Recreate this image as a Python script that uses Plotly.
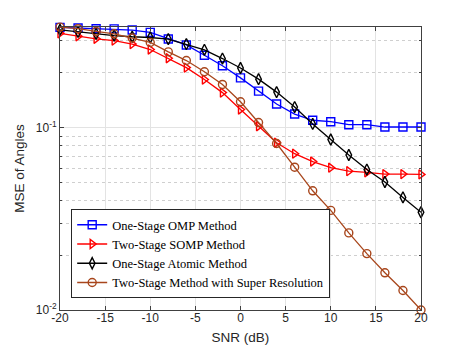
import plotly.graph_objects as go

snr = list(range(-20, 21, 2))

omp = [0.356, 0.353, 0.350, 0.349, 0.344, 0.334, 0.307, 0.285, 0.250, 0.219, 0.188,
       0.159, 0.135, 0.119, 0.110, 0.108, 0.104, 0.104, 0.101, 0.101, 0.101]
somp = [0.330, 0.318, 0.308, 0.301, 0.288, 0.269, 0.241, 0.214, 0.184, 0.156, 0.126,
        0.102, 0.0828, 0.0721, 0.0653, 0.0604, 0.0578, 0.0569, 0.0557, 0.0557, 0.0555]
atomic = [0.345, 0.336, 0.328, 0.321, 0.316, 0.313, 0.307, 0.288, 0.268, 0.240, 0.213,
          0.185, 0.157, 0.130, 0.105, 0.0863, 0.0709, 0.059, 0.0504, 0.0415, 0.0344]
superres = [0.357, 0.350, 0.338, 0.328, 0.311, 0.294, 0.261, 0.234, 0.203, 0.173, 0.139,
            0.107, 0.082, 0.0608, 0.0451, 0.0352, 0.0265, 0.0204, 0.0160, 0.0128, 0.0100]

x_ticks = [-20, -15, -10, -5, 0, 5, 10, 15, 20]
x_labels = ["-20", "-15", "-10", "-5", "0", "5", "10", "15", "20"]
y_ticks = [0.01, 0.1]
y_labels = ["10<sup>-2</sup>", "10<sup>-1</sup>"]

series = [
    ("One-Stage OMP Method", omp, "#0000FF", "square-open"),
    ("Two-Stage SOMP Method", somp, "#FF0000", "triangle-right-open"),
    ("One-Stage Atomic Method", atomic, "#000000", "diamond-tall-open"),
    ("Two-Stage Method with Super Resolution", superres, "#A8461C", "circle-open"),
]

fig = go.Figure()
for name, vals, color, sym in series:
    fig.add_trace(go.Scatter(
        x=snr, y=vals, name=name, mode="lines+markers",
        line=dict(color=color, width=1.3),
        marker=dict(symbol=sym, size=8, color=color, line=dict(width=1.4, color=color)),
        cliponaxis=False,
    ))

sans = "Liberation Sans, Arial, sans-serif"
axis_font = dict(family=sans, size=12, color="#262626")

# the page puts the figure 8px in from the top-left corner, so size it to fit the window
fig.update_layout(
    width=457, height=344,
    margin=dict(l=52, r=44, t=19, b=42),
    paper_bgcolor="white", plot_bgcolor="white",
    showlegend=True,
    legend=dict(
        x=0.031, y=0.042, xanchor="left", yanchor="bottom",
        bgcolor="white", bordercolor="#262626", borderwidth=1,
        font=dict(family="Liberation Serif, Times New Roman, serif", size=12.5, color="#000"),
        tracegroupgap=0, itemwidth=30,
    ),
    xaxis=dict(
        range=[-20, 20], tickvals=x_ticks, ticktext=x_labels, automargin=False,
        title=dict(text="SNR (dB)", font=dict(size=13.5, family=sans, color="#262626"), standoff=8),
        tickfont=axis_font, ticklabelstandoff=-3,
        showgrid=True, gridcolor="#E3E3E3", gridwidth=1,
        showline=True, linecolor="#404040", linewidth=1, mirror="ticks",
        ticks="inside", ticklen=4, tickcolor="#404040",
        zeroline=False,
    ),
    yaxis=dict(
        type="log", range=[-2, -0.4467], automargin=False,
        tickvals=y_ticks, ticktext=y_labels,
        title=dict(text="MSE of Angles", font=dict(size=13.5, family=sans, color="#262626"), standoff=8),
        tickfont=axis_font,
        showgrid=True, gridcolor="#E3E3E3", gridwidth=1,
        showline=True, linecolor="#404040", linewidth=1, mirror="ticks",
        ticks="inside", ticklen=4, tickcolor="#404040",
        minor=dict(dtick="D1", showgrid=True, gridcolor="#CFCFCF", griddash="dot",
                   ticks="inside", ticklen=2, tickcolor="#404040"),
        zeroline=False,
    ),
)

fig.write_html("out.html")
